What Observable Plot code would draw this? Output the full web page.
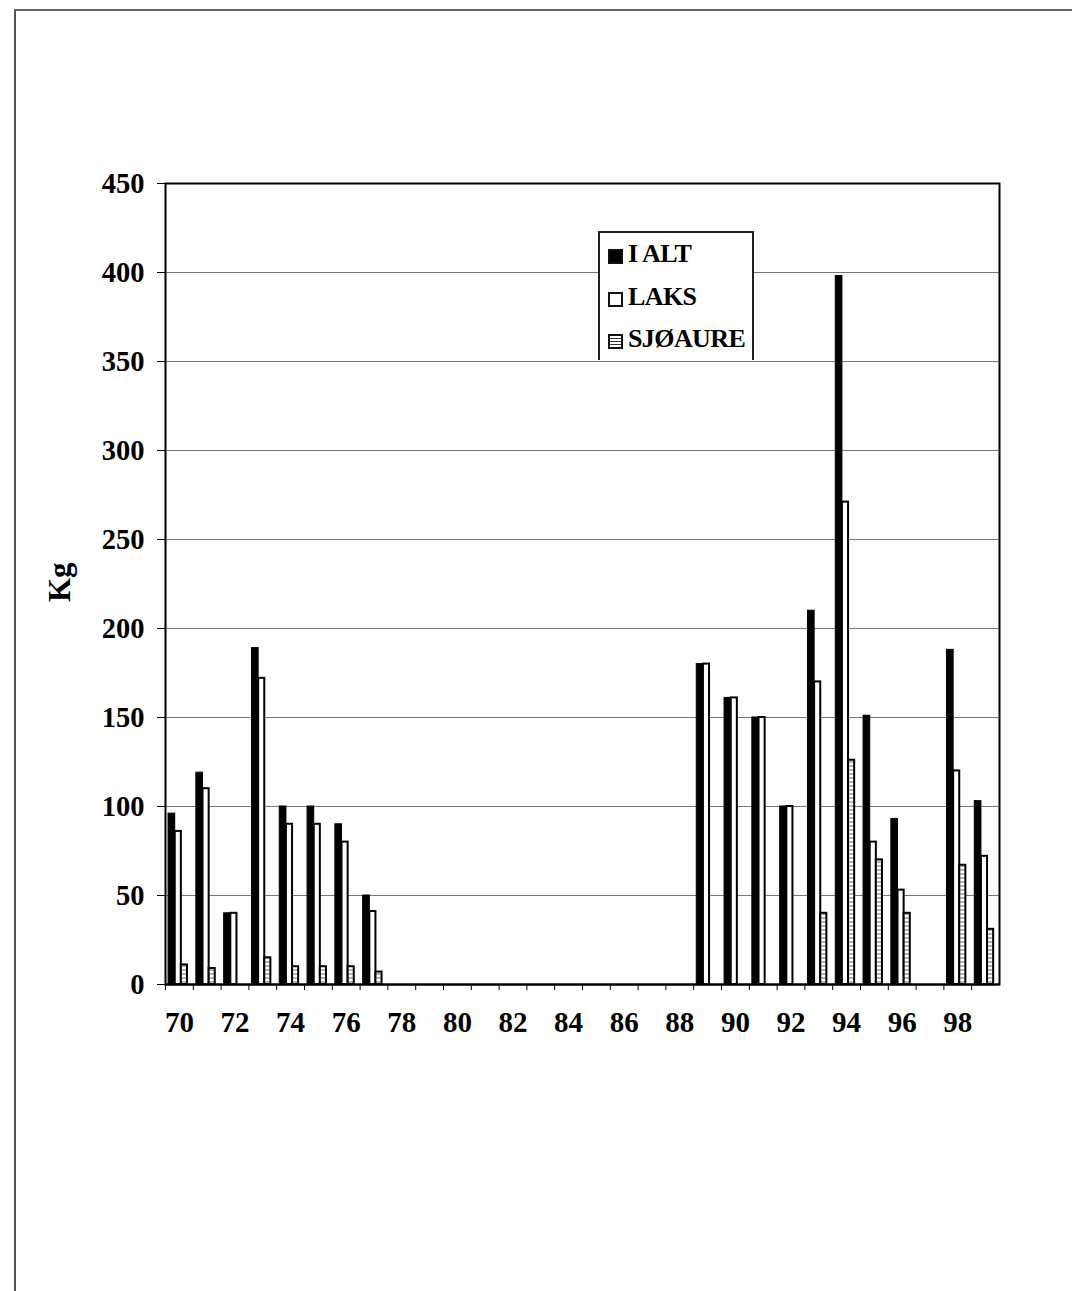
<!DOCTYPE html>
<html>
<head>
<meta charset="utf-8">
<script src="https://cdn.jsdelivr.net/npm/d3@7"></script>
<script src="https://cdn.jsdelivr.net/npm/@observablehq/plot@0.6"></script>
<style>
  html, body { margin: 0; padding: 0; background: #fff; }
  #wrap { position: relative; width: 1072px; height: 1291px; overflow: hidden; font-family: "Liberation Serif", "Times New Roman", serif; }
  #pageborder { position: absolute; left: 14px; top: 9px; right: -5px; bottom: -5px; border-top: 2px solid #666; border-left: 2px solid #555; }
  #legend { position: absolute; left: 598px; top: 231px; width: 156px; height: 129px; background: #fff;
            border: 2px solid #222; border-bottom: none; box-sizing: border-box; }
  .item { position: absolute; left: 8px; font-weight: bold; font-size: 26px; line-height: 26px; white-space: nowrap; letter-spacing: -0.6px; }
  .sw { display: inline-block; width: 15px; height: 15px; box-sizing: border-box; border: 2px solid #111; margin-right: 5px; vertical-align: -2px; }
  #chart { position: absolute; left: 0; top: 0; }
</style>
</head>
<body>
<div id="wrap">
  <div id="pageborder"></div>
  <div id="chart"></div>
  <div id="legend"></div>
</div>
<script>
const years = [70,71,72,73,74,75,76,77,78,79,80,81,82,83,84,85,86,87,88,89,90,91,92,93,94,95,96,97,98,99];
const ialt  = [96,119,40,189,100,100,90,50,0,0,0,0,0,0,0,0,0,0,0,180,161,150,100,210,398,151,93,0,188,103];
const laks  = [86,110,40,172,90,90,80,41,0,0,0,0,0,0,0,0,0,0,0,180,161,150,100,170,271,80,53,0,120,72];
const sjo   = [11,9,0,15,10,10,10,7,0,0,0,0,0,0,0,0,0,0,0,0,0,0,0,40,126,70,40,0,67,31];
const seriesNames = ["I ALT", "LAKS", "SJØAURE"];
const yTicks = [0,50,100,150,200,250,300,350,400,450];
const xLabels = [70,72,74,76,78,80,82,84,86,88,90,92,94,96,98];

const W = 1072, H = 1291, ML = 165, MR = 73, MT = 183, MB = 307;
const bw = (W - ML - MR) / years.length;

const rows = years.map((y, i) => ({year: y, ialt: ialt[i], laks: laks[i], sjo: sjo[i]}));
const font = "Liberation Serif, Times New Roman, serif";

const plot = Plot.plot({
  width: W, height: H,
  marginLeft: ML, marginRight: MR, marginTop: MT, marginBottom: MB,
  style: {fontFamily: font, background: "transparent", overflow: "visible"},
  x: {type: "band", domain: years, padding: 0, round: false, label: null},
  y: {domain: [0, 450], label: null},
  marks: [
    Plot.gridY([50,100,150,200,250,300,350,400], {stroke: "#777", strokeOpacity: 1, strokeWidth: 1}),
    Plot.barY(rows.filter(d => d.ialt > 0), {x: "year", y: "ialt", fill: "#000", stroke: "#000", strokeWidth: 1,
      insetLeft: bw * 0.11, insetRight: bw * 0.65}),
    Plot.barY(rows.filter(d => d.laks > 0), {x: "year", y: "laks", fill: "#fff", stroke: "#000", strokeWidth: 2,
      insetLeft: bw * 0.35, insetRight: bw * 0.43}),
    Plot.barY(rows.filter(d => d.sjo > 0), {x: "year", y: "sjo", fill: "url(#sjoPat)", stroke: "#000", strokeWidth: 2,
      insetLeft: bw * 0.57, insetRight: bw * 0.21}),
    Plot.frame({stroke: "#000", strokeWidth: 2}),
    Plot.ruleY([0], {stroke: "#000", strokeWidth: 2}),
    Plot.axisY({ticks: yTicks, tickSize: 8, tickPadding: 13, fontSize: 28.5, fontWeight: "bold", label: null, stroke: "#000"}),
    Plot.axisX({ticks: years, tickSize: 6, text: null, dx: -bw / 2, stroke: "#000", label: null}),
    Plot.axisX({ticks: xLabels, tickSize: 0, tickPadding: 27, fontSize: 29, fontWeight: "bold", label: null}),
    Plot.text(["Kg"], {frameAnchor: "left", dx: -105, dy: 18, rotate: -90, fontSize: 31, fontWeight: "bold", fill: "#000"})
  ]
});

// pattern for SJØAURE (horizontal hatch)
const svg = d3.select(plot);
const defs = svg.insert("defs", ":first-child");
const pat = defs.append("pattern").attr("id", "sjoPat").attr("patternUnits", "userSpaceOnUse")
  .attr("width", 4).attr("height", 4);
pat.append("rect").attr("width", 4).attr("height", 4).attr("fill", "#fff");
pat.append("line").attr("x1", 0).attr("x2", 4).attr("y1", 2).attr("y2", 2).attr("stroke", "#444").attr("stroke-width", 0.8);
svg.selectAll("text").style("fill", "#000");

document.getElementById("chart").appendChild(plot);

// legend
const legend = d3.select("#legend");
const swatches = [
  {name: seriesNames[0], style: "background:#000;", top: 8},
  {name: seriesNames[1], style: "background:#fff;", top: 51},
  {name: seriesNames[2], style: "background:repeating-linear-gradient(#fff 0 2px,#333 2px 3px);", top: 93}
];
swatches.forEach(s => {
  const it = legend.append("div").attr("class", "item").style("top", s.top + "px");
  it.append("span").attr("class", "sw").attr("style", s.style);
  it.append("span").text(s.name);
});
</script>
</body>
</html>
